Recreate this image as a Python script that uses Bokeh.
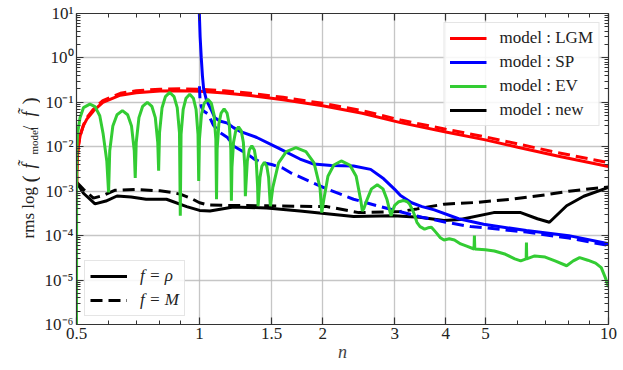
import math
from bokeh.plotting import figure
from bokeh.layouts import row
from bokeh.models import (FixedTicker, LogAxis, Legend, LegendItem, Label,
                          CustomJSTickFormatter, Range1d)
from bokeh.embed import file_html
from bokeh.resources import INLINE

FONT = "Liberation Serif, serif"

# ---------------- axes / ticks ----------------
x_ticks = [0.5, 1, 1.5, 2, 3, 4, 5, 10]
x_minor = [0.6, 0.7, 0.8, 0.9, 6, 7, 8, 9]
x_tick_labels = ["0.5", "1", "1.5", "2", "3", "4", "5", "10"]
y_ticks = [1e-6, 1e-5, 1e-4, 1e-3, 1e-2, 1e-1, 1, 10]
y_tick_labels = ["10⁻⁶", "10⁻⁵", "10⁻⁴", "10⁻³", "10⁻²", "10⁻¹", "10⁰", "10¹"]

# ---------------- data ----------------
lgm_n = [0.5, 0.5005, 0.502, 0.505, 0.5105, 0.52, 0.53, 0.55, 0.58, 0.64, 0.7, 0.8, 0.9,
         1.0, 1.15, 1.33, 1.6, 2.0, 2.5, 3.1, 4.0, 5.0, 6.0, 7.5, 10.0]
lgm_rho = [0.0012, 0.0015, 0.005, 0.01, 0.018, 0.03, 0.042, 0.064, 0.1, 0.145, 0.165, 0.18, 0.183,
           0.178, 0.163, 0.143, 0.115, 0.084, 0.057, 0.035, 0.0215, 0.0143, 0.0098, 0.0062, 0.0036]
lgm_M = [0.0012, 0.0015, 0.005, 0.01, 0.018, 0.031, 0.045, 0.07, 0.11, 0.16, 0.182, 0.198, 0.202,
         0.198, 0.182, 0.16, 0.13, 0.095, 0.065, 0.04, 0.0248, 0.0167, 0.0116, 0.0074, 0.0044]

sp_rho_n = [0.997, 0.9986, 1.003, 1.0095, 1.016, 1.023, 1.04, 1.07, 1.09, 1.12, 1.17, 1.21, 1.26,
            1.38, 1.55, 1.76, 1.9, 2.1, 2.38, 2.62, 2.82, 3.0, 3.1, 3.3, 3.5, 3.75, 4.3, 4.95,
            6.3, 8.0, 10.0]
sp_rho = [30, 10, 3, 1.0, 0.4, 0.2, 0.11, 0.065, 0.045, 0.038, 0.034, 0.027, 0.022,
          0.0162, 0.0096, 0.0053, 0.0041, 0.0038, 0.0037, 0.0031, 0.0019, 0.0011, 0.0008, 0.00055,
          0.00045, 0.00038, 0.00024, 0.00018, 0.00013, 0.0001, 0.000066]
sp_M_n = [0.9995, 1.002, 1.01, 1.02, 1.05, 1.08, 1.12, 1.17, 1.21, 1.31, 1.36, 1.41, 1.5, 1.6,
          1.67, 1.85, 2.05, 2.38, 2.72, 3.04, 3.5, 4.0, 4.6, 5.0, 6.3, 8.0, 10.0]
sp_M = [0.23, 0.12, 0.08, 0.065, 0.054, 0.031, 0.021, 0.0162, 0.0104, 0.0068, 0.0053, 0.0045,
        0.004, 0.0033, 0.0026, 0.0017, 0.00112, 0.00066, 0.00047, 0.00036, 0.00026, 0.0002,
        0.00016, 0.00015, 0.00012, 0.000088, 0.00006]

ev_n = [0.5, 0.5003, 0.501, 0.503, 0.5057, 0.51, 0.52, 0.539, 0.555, 0.57, 0.581, 0.593, 0.599,
        0.6029, 0.6136, 0.6281, 0.6475, 0.6669, 0.6815, 0.6922, 0.696,
        0.6999, 0.7107, 0.7254, 0.745, 0.7646, 0.7793, 0.7901, 0.794,
        0.7981, 0.8095, 0.8249, 0.8455, 0.8661, 0.8816, 0.8929, 0.897,
        0.9009, 0.9117, 0.9264, 0.946, 0.9656, 0.9803, 0.9911, 0.995,
        0.9992, 1.0108, 1.0265, 1.0475, 1.0685, 1.0843, 1.0958, 1.10,
        1.1038, 1.1144, 1.1288, 1.148, 1.1672, 1.1816, 1.1922, 1.196,
        1.1999, 1.2107, 1.2254, 1.245, 1.2646, 1.2793, 1.2901, 1.294,
        1.2978, 1.3084, 1.3228, 1.342, 1.3612, 1.3756, 1.3862, 1.39,
        1.394, 1.405, 1.42, 1.44, 1.46, 1.475, 1.486, 1.49,
        1.51, 1.56, 1.63, 1.72, 1.82, 1.905, 1.97, 1.99,
        2.01, 2.06, 2.13, 2.22, 2.33, 2.415, 2.48, 2.5,
        2.52, 2.566, 2.632, 2.72, 2.808, 2.874, 2.92, 2.94,
        2.96, 3.0, 3.07, 3.15, 3.22, 3.26, 3.33, 3.4, 3.46, 3.55, 3.62, 3.69, 3.78, 3.88,
        3.96, 4.08, 4.2, 4.35, 4.5, 4.69, 4.7, 4.71, 5.0, 5.26, 5.6, 5.9, 6.1, 6.29, 6.3,
        6.31, 6.6, 7.0, 7.4, 7.9, 8.2, 8.5, 8.9, 9.3, 9.6, 9.8, 10.0]
ev_rho = [1e-7, 0.001, 0.008, 0.02, 0.027, 0.045, 0.076, 0.091, 0.08, 0.05, 0.0193, 0.0048, 0.00094,
          0.0081, 0.0295, 0.0526, 0.065, 0.0526, 0.0295, 0.0081, 0.002,
          0.0125, 0.0454, 0.0809, 0.10, 0.0809, 0.0454, 0.0125, 0.0029,
          0.0209, 0.0758, 0.135, 0.167, 0.135, 0.0758, 0.0209, 0.00028,
          0.0191, 0.0695, 0.124, 0.153, 0.124, 0.0695, 0.0191, 0.0017,
          0.0148, 0.0536, 0.0955, 0.118, 0.0955, 0.0536, 0.0148, 0.00066,
          0.0089, 0.0322, 0.0574, 0.071, 0.0574, 0.0322, 0.0089, 0.00061,
          0.0035, 0.0127, 0.0227, 0.028, 0.0227, 0.0127, 0.0035, 0.00077,
          0.0013, 0.0048, 0.0085, 0.0105, 0.0085, 0.0048, 0.0013, 0.00046,
          0.00065, 0.00204, 0.00364, 0.0045, 0.00364, 0.00204, 0.00065, 0.00046,
          0.0012, 0.00436, 0.00777, 0.0096, 0.00777, 0.00436, 0.0012, 0.00033,
          0.0006, 0.00218, 0.00388, 0.0048, 0.00388, 0.00218, 0.0006, 0.00036,
          0.0004, 0.00064, 0.00113, 0.0014, 0.00113, 0.00064, 0.00035, 0.00028,
          0.00035, 0.00048, 0.00058, 0.00062, 0.00058, 0.00052, 0.00035, 0.0002, 0.00016, 0.00014,
          0.00015, 0.000155, 0.00012, 0.00009, 0.00008, 0.000085, 0.00008, 0.000065, 0.000058,
          0.00005, 0.0001, 0.00005, 0.000048, 0.000045, 0.000038, 0.00003, 0.000027, 0.00003,
          0.00007, 0.00003, 0.000035, 0.000033, 0.000027, 0.000021, 0.000027, 0.000032, 0.000028,
          0.000024, 0.000019, 0.000012, 0.000007]

new_rho_n = [0.5, 0.52, 0.555, 0.59, 0.628, 0.68, 0.74, 0.83, 0.93, 1.0, 1.06, 1.21, 1.46, 1.76,
             2.38, 2.98, 3.45, 3.96, 4.34, 5.24, 6.1, 6.7, 7.17, 7.9, 8.7, 10.0]
new_rho = [0.0016, 0.0009, 0.00052, 0.0006, 0.00078, 0.00074, 0.00066, 0.00066, 0.00045, 0.00037,
           0.00036, 0.00044, 0.00042, 0.00036, 0.00027, 0.00028, 0.00026, 0.00022, 0.00023, 0.00033,
           0.00033, 0.00024, 0.0002, 0.00047, 0.00077, 0.00122]
new_M_n = [0.5, 0.52, 0.55, 0.58, 0.62, 0.7, 0.8, 0.85, 0.9, 0.95, 1.0, 1.05, 1.15, 1.46, 2.05,
           2.45, 3.1, 3.4, 3.96, 4.77, 5.78, 7.0, 8.0, 10.0]
new_M = [0.0016, 0.0011, 0.0007, 0.0008, 0.00105, 0.0011, 0.00102, 0.00095, 0.00085, 0.0007,
         0.00055, 0.00049, 0.00048, 0.00047, 0.00045, 0.00033, 0.00035, 0.0004, 0.00051, 0.00056,
         0.00066, 0.00083, 0.001, 0.00125]

RED, BLUE, GREEN, BLACK = "#ff0000", "#0000ff", "#33cc33", "#000000"
DASH = "12 6"
LW = 3

H = 368
FRAME_BOTTOM = 324
LAB_W = 40
W = 623 - LAB_W
p = figure(width=W, height=H, x_axis_type="log", y_axis_type="log",
           x_range=Range1d(0.5, 10), y_range=Range1d(1e-6, 10),
           output_backend="svg", toolbar_location=None,
           min_border_left=76 - LAB_W, min_border_right=15, min_border_top=13,
           min_border_bottom=H - FRAME_BOTTOM)
p.outline_line_color = None

CODE = """
let best = 0, bd = Infinity;
for (let i = 0; i < tv.length; i++) {
  const d = Math.abs(Math.log(tick) - Math.log(tv[i]));
  if (d < bd) { bd = d; best = i; }
}
return tl[best];
"""
fmt_x = CustomJSTickFormatter(args=dict(tv=x_ticks, tl=x_tick_labels), code=CODE)
fmt_y = CustomJSTickFormatter(args=dict(tv=y_ticks, tl=y_tick_labels), code=CODE)
fmt_blank = CustomJSTickFormatter(code="return '';")

y_minor = [k * d for d in y_ticks[:-1] for k in range(2, 10)]


def style_axis(ax, show_labels=True):
    ax.axis_line_color = "#333333"
    ax.axis_line_width = 1.2
    ax.major_tick_in = 7
    ax.major_tick_out = 0
    ax.minor_tick_in = 4
    ax.minor_tick_out = 0
    ax.major_tick_line_color = "#333333"
    ax.minor_tick_line_color = "#333333"
    ax.major_tick_line_width = 1.2
    ax.minor_tick_line_width = 1
    ax.major_label_text_font = FONT
    ax.major_label_text_font_size = "17px"
    ax.major_label_text_color = "#222222"
    ax.major_label_standoff = 3 if show_labels else 0


xax = p.xaxis[0]
xax.ticker = FixedTicker(ticks=x_ticks, minor_ticks=x_minor)
xax.formatter = fmt_x
style_axis(xax)
xax.axis_label = "n"
xax.axis_label_text_font = FONT
xax.axis_label_text_font_style = "italic"
xax.axis_label_text_font_size = "18px"
xax.axis_label_standoff = 0

yax = p.yaxis[0]
yax.ticker = FixedTicker(ticks=y_ticks, minor_ticks=y_minor)
yax.formatter = fmt_y
style_axis(yax)

top = LogAxis(ticker=FixedTicker(ticks=x_ticks, minor_ticks=x_minor), formatter=fmt_blank)
style_axis(top, False)
p.add_layout(top, "above")
right = LogAxis(ticker=FixedTicker(ticks=y_ticks, minor_ticks=y_minor), formatter=fmt_blank)
style_axis(right, False)
p.add_layout(right, "right")

p.xgrid.ticker = FixedTicker(ticks=x_ticks)
p.ygrid.ticker = FixedTicker(ticks=y_ticks)
for g in (p.xgrid[0], p.ygrid[0]):
    g.grid_line_color = "#b8b8b8"
    g.grid_line_width = 1.3
    g.grid_line_alpha = 0.8

r_new = p.line(new_rho_n, new_rho, color=BLACK, line_width=LW)
r_new_M = p.line(new_M_n, new_M, color=BLACK, line_width=LW, line_dash=DASH)
r_lgm = p.line(lgm_n, lgm_rho, color=RED, line_width=LW)
p.line(lgm_n, lgm_M, color=RED, line_width=LW, line_dash=DASH)
r_sp = p.line(sp_rho_n, sp_rho, color=BLUE, line_width=LW)
p.line(sp_M_n, sp_M, color=BLUE, line_width=LW, line_dash=DASH)
r_ev = p.line(ev_n, ev_rho, color=GREEN, line_width=LW)


def style_legend(leg):
    leg.label_text_font = FONT
    leg.label_text_font_size = "17px"
    leg.label_text_color = "#222222"
    leg.glyph_width = 37
    leg.glyph_height = 20
    leg.label_height = 20
    leg.label_standoff = 13
    leg.padding = 5
    leg.spacing = 4
    leg.border_line_color = "#cccccc"
    leg.border_line_width = 1
    leg.background_fill_color = "white"
    leg.background_fill_alpha = 0.85


leg1 = Legend(items=[LegendItem(label="model : LGM", renderers=[r_lgm]),
                     LegendItem(label="model : SP", renderers=[r_sp]),
                     LegendItem(label="model : EV", renderers=[r_ev]),
                     LegendItem(label="model : new", renderers=[r_new])],
              location="top_right", margin=9)
style_legend(leg1)
p.add_layout(leg1)

leg2 = Legend(items=[LegendItem(label="f = ρ", renderers=[r_new]),
                     LegendItem(label="f = M", renderers=[r_new_M])],
              location="bottom_left", margin=8)
style_legend(leg2)
leg2.label_text_font_style = "italic"
p.add_layout(leg2)

# ---------------- y-axis label (separate narrow panel; frame aligned with main) ----------------
lab = figure(width=LAB_W, height=H, x_range=(0, 1), y_range=(0, 1),
             output_backend="svg", toolbar_location=None, min_border=0,
             x_axis_location=None, y_axis_location=None)
lab.outline_line_color = None
lab.grid.visible = False

BASE_X = 28
pieces = [
    ("rms log", 238, 17, "normal", 0),
    ("(", 182, 22, "normal", 1),
    ("f\u0303", 168, 18, "italic", 0),
    ("model", 154, 11, "normal", 5),
    ("/", 130, 17, "normal", 0),
    ("f\u0303", 116, 18, "italic", 0),
    (")", 104, 22, "normal", 1),
]
for txt, ys, sz, st, dx in pieces:
    lab.add_layout(Label(x=BASE_X + dx, y=FRAME_BOTTOM - ys, x_units="screen", y_units="screen",
                         text=txt, angle=math.pi / 2, text_font=FONT, text_font_size=f"{sz}px",
                         text_font_style=st, text_align="left", text_baseline="alphabetic",
                         text_color="#222222"))

layout = row(lab, p, spacing=0)
open("out.html", "w").write(file_html(layout, INLINE))
